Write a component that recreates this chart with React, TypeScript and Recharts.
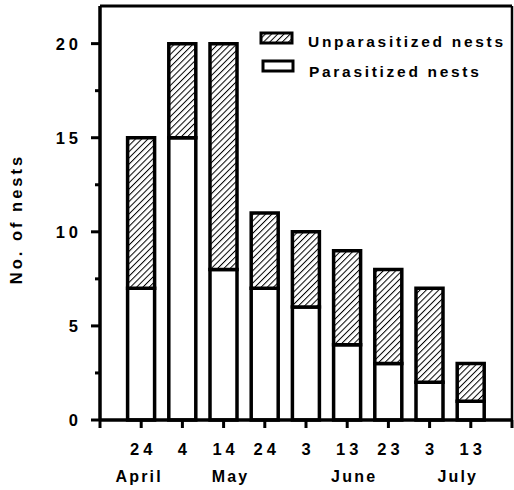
import { Bar, BarChart, ReferenceLine, XAxis, YAxis } from "recharts";

// nest counts per census date (parasitized at the bottom, unparasitized stacked on top)
const dates = ["24", "4", "14", "24", "3", "13", "23", "3", "13"];
const parasitized = [7, 15, 8, 7, 6, 4, 3, 2, 1];
const unparasitized = [8, 5, 12, 4, 4, 5, 5, 5, 2];

// month names and the date slot each sits under
const months = ["April", "May", "June", "July"];
const monthSlots = [1, 3, 6, 9];

const xTicks = [0, 1, 2, 3, 4, 5, 6, 7, 8, 9, 10];
const yTicks = [0, 2.5, 5, 7.5, 10, 12.5, 15, 17.5, 20];

const data = dates.map((date, i) => ({
  slot: i + 1,
  date,
  parasitized: parasitized[i],
  unparasitized: unparasitized[i],
}));

const FONT = "'Liberation Sans', Arial, sans-serif";
const monthShift: Record<string, number> = { April: -4, May: 5, June: 5, July: -15 };

function DateTick(props: any) {
  const { x, y, payload } = props;
  const slot = payload.value as number;
  const date = dates[slot - 1];
  const m = monthSlots.indexOf(slot);
  return (
    <g>
      <line x1={x} x2={x} y1={y} y2={y + 8} stroke="#000" strokeWidth={3} />
      {date && (
        <text x={x + 2} y={y + 35} textAnchor="middle" fontFamily={FONT} fontWeight="bold" fontSize={16.5} letterSpacing={4} fill="#000">
          {date}
        </text>
      )}
      {m >= 0 && (
        <text x={x + monthShift[months[m]] + 2} y={y + 62} textAnchor="middle" fontFamily={FONT} fontWeight="bold" fontSize={16} letterSpacing={2.2} fill="#000">
          {months[m]}
        </text>
      )}
    </g>
  );
}

function CountTick(props: any) {
  const { x, y, payload } = props;
  const v = payload.value as number;
  const major = v % 5 === 0;
  return (
    <g>
      <line x1={x - (major ? 9 : 5)} x2={x} y1={y} y2={y} stroke="#000" strokeWidth={3} />
      {major && (
        <text x={x - 18} y={y + 6} textAnchor="end" fontFamily={FONT} fontWeight="bold" fontSize={16.5} letterSpacing={4} fill="#000">
          {v}
        </text>
      )}
    </g>
  );
}

export default function App() {
  return (
    <div style={{ position: "absolute", left: 0, top: 0, background: "#fff" }}>
      <BarChart width={514} height={490} data={data} margin={{ top: 6, right: 2, bottom: 10, left: 0 }}>
        <defs>
          <pattern id="hatch" patternUnits="userSpaceOnUse" width={4.4} height={4.4} patternTransform="rotate(45)">
            <rect width={4.4} height={4.4} fill="#fff" />
            <line x1={0} y1={0} x2={0} y2={4.4} stroke="#000" strokeWidth={2} />
          </pattern>
        </defs>
        <XAxis
          type="number"
          dataKey="slot"
          domain={[0, 10]}
          ticks={xTicks}
          interval={0}
          height={60}
          tickSize={0}
          tickMargin={0}
          tickLine={false}
          tick={<DateTick />}
          axisLine={{ stroke: "#000", strokeWidth: 3.5 }}
        />
        <YAxis
          type="number"
          domain={[0, 22]}
          ticks={yTicks}
          interval={0}
          width={100}
          tickSize={0}
          tickMargin={0}
          tickLine={false}
          tick={<CountTick />}
          axisLine={{ stroke: "#000", strokeWidth: 3.5 }}
        />
        <ReferenceLine y={22} stroke="#000" strokeWidth={3} />
        <ReferenceLine x={10} stroke="#000" strokeWidth={2.5} />
        <Bar dataKey="parasitized" stackId="n" barSize={27} fill="#fff" stroke="#000" strokeWidth={3.5} isAnimationActive={false} />
        <Bar dataKey="unparasitized" stackId="n" barSize={27} fill="url(#hatch)" stroke="#000" strokeWidth={3.5} isAnimationActive={false} />
        <text transform="translate(22,219) rotate(-90)" textAnchor="middle" fontFamily={FONT} fontWeight="bold" fontSize={16.5} letterSpacing={3} fill="#000">
          No. of nests
        </text>
        <g fontFamily={FONT} fontWeight="bold" fontSize={15.5} letterSpacing={2.7} fill="#000">
          <rect x={261} y={33} width={31} height={10} fill="url(#hatch)" stroke="#000" strokeWidth={3} />
          <text x={308} y={47}>Unparasitized nests</text>
          <rect x={263} y={61} width={30} height={10} fill="#fff" stroke="#000" strokeWidth={3} />
          <text x={309} y={77}>Parasitized nests</text>
        </g>
      </BarChart>
    </div>
  );
}
